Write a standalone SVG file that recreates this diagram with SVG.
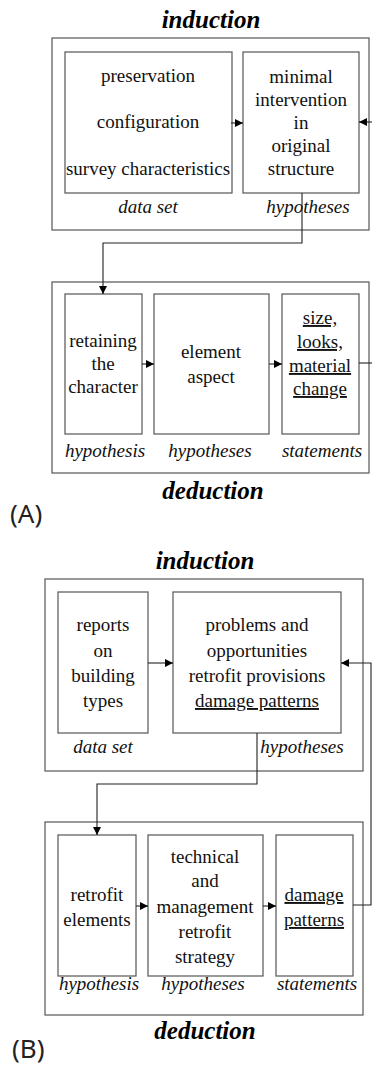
<svg xmlns="http://www.w3.org/2000/svg" width="372" height="1065" viewBox="0 0 372 1065">
<defs>
<marker id="ah" viewBox="0 0 10 10" refX="10" refY="5" markerWidth="9" markerHeight="8" markerUnits="userSpaceOnUse" orient="auto">
<path d="M0,0 L10,5 L0,10 z" fill="#000"/>
</marker>
<style>
.outer{fill:#fff;stroke:#555;stroke-width:1.2}
.box{fill:#fff;stroke:#555;stroke-width:1.2}
.t,.lab,.ttl{font-family:Liberation Serif,Tinos,Noto Serif,DejaVu Serif,FreeSerif,Times New Roman,Times,serif}
.t{font-size:19px;fill:#111;text-anchor:middle}
.u{text-decoration:underline}
.lab{font-size:19px;font-style:italic;fill:#111;text-anchor:middle}
.ttl{font-size:25px;font-style:italic;font-weight:bold;fill:#000;text-anchor:middle}
.pl{font-family:Noto Sans,DejaVu Sans,sans-serif;font-size:26px;fill:#222}
.c{fill:none;stroke:#222;stroke-width:1.1}
</style>
</defs>
<rect width="372" height="1065" fill="#fff"/>

<!-- Panel A -->
<text class="ttl" x="211" y="28">induction</text>
<rect id="A-induction" class="outer" x="52" y="38" width="317" height="192"/>
<g id="A-dataset">
<rect class="box" x="65" y="52" width="167" height="141"/>
<text class="t" x="148" y="82">preservation</text>
<text class="t" x="148" y="128">configuration</text>
<text class="t" x="148" y="175">survey characteristics</text>
<text class="lab" x="148" y="213">data set</text>
</g>
<g id="A-hyp1">
<rect class="box" x="243" y="52" width="116" height="141"/>
<text class="t" x="301" y="83">minimal</text>
<text class="t" x="301" y="106">intervention</text>
<text class="t" x="301" y="129">in</text>
<text class="t" x="301" y="152">original</text>
<text class="t" x="301" y="175">structure</text>
<text class="lab" x="308" y="213">hypotheses</text>
</g>

<rect id="A-deduction" class="outer" x="52" y="282" width="317" height="191"/>
<g id="A-hypothesis">
<rect class="box" x="65" y="294" width="77" height="140"/>
<text class="t" x="103" y="347">retaining</text>
<text class="t" x="103" y="370">the</text>
<text class="t" x="103" y="393">character</text>
<text class="lab" x="105" y="457">hypothesis</text>
</g>
<g id="A-hyp2">
<rect class="box" x="154" y="294" width="115" height="140"/>
<text class="t" x="211" y="358">element</text>
<text class="t" x="211" y="383">aspect</text>
<text class="lab" x="210" y="457">hypotheses</text>
</g>
<g id="A-statements">
<rect class="box" x="282" y="294" width="77" height="140"/>
<text class="t u" x="320" y="324">size,</text>
<text class="t u" x="320" y="348">looks,</text>
<text class="t u" x="320" y="372">material</text>
<text class="t u" x="320" y="395">change</text>
<text class="lab" x="322" y="457">statements</text>
</g>
<text class="ttl" x="213" y="499">deduction</text>
<text class="pl" x="10" y="523">(A)</text>

<!-- Panel B -->
<text class="ttl" x="205" y="569">induction</text>
<rect id="B-induction" class="outer" x="45" y="579" width="318" height="192"/>
<g id="B-dataset">
<rect class="box" x="58" y="592" width="90" height="141"/>
<text class="t" x="103" y="631">reports</text>
<text class="t" x="103" y="657">on</text>
<text class="t" x="103" y="682">building</text>
<text class="t" x="103" y="707">types</text>
<text class="lab" x="103" y="753">data set</text>
</g>
<g id="B-hyp1">
<rect class="box" x="173" y="592" width="168" height="141"/>
<text class="t" x="257" y="631">problems and</text>
<text class="t" x="257" y="657">opportunities</text>
<text class="t" x="257" y="682">retrofit provisions</text>
<text class="t u" x="257" y="707">damage patterns</text>
<text class="lab" x="302" y="753">hypotheses</text>
</g>

<rect id="B-deduction" class="outer" x="45" y="822" width="318" height="193"/>
<g id="B-hypothesis">
<rect class="box" x="58" y="835" width="78" height="141"/>
<text class="t" x="97" y="901">retrofit</text>
<text class="t" x="97" y="926">elements</text>
<text class="lab" x="99" y="990">hypothesis</text>
</g>
<g id="B-hyp2">
<rect class="box" x="148" y="835" width="115" height="141"/>
<text class="t" x="205" y="863">technical</text>
<text class="t" x="205" y="887">and</text>
<text class="t" x="205" y="913">management</text>
<text class="t" x="205" y="938">retrofit</text>
<text class="t" x="205" y="963">strategy</text>
<text class="lab" x="203" y="990">hypotheses</text>
</g>
<g id="B-statements">
<rect class="box" x="276" y="835" width="77" height="141"/>
<text class="t u" x="314" y="901">damage</text>
<text class="t u" x="314" y="926">patterns</text>
<text class="lab" x="317" y="990">statements</text>
</g>
<text class="ttl" x="205" y="1039">deduction</text>
<text class="pl" x="12" y="1058">(B)</text>

<g id="connectors">
<path class="c" d="M231,123 H243" marker-end="url(#ah)"/>
<path class="c" d="M372,122 H359" marker-end="url(#ah)"/>
<path class="c" d="M302,193 V243 H103 V294" marker-end="url(#ah)"/>
<path class="c" d="M142,364 H154" marker-end="url(#ah)"/>
<path class="c" d="M269,364 H282" marker-end="url(#ah)"/>
<path class="c" d="M359,363 H372"/>
<path class="c" d="M148,663 H173" marker-end="url(#ah)"/>
<path class="c" d="M353,905 H371 V663 H341" marker-end="url(#ah)"/>
<path class="c" d="M257,733 V784 H97 V835" marker-end="url(#ah)"/>
<path class="c" d="M136,906 H148" marker-end="url(#ah)"/>
<path class="c" d="M263,906 H276" marker-end="url(#ah)"/>
</g>
</svg>
